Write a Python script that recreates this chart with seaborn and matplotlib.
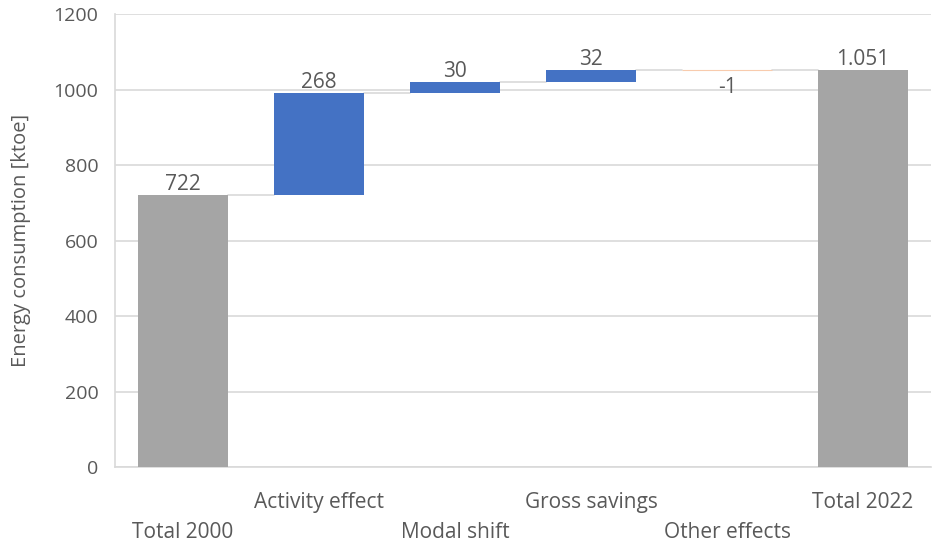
import matplotlib
matplotlib.use("Agg")
import matplotlib.pyplot as plt
import seaborn as sns
import pandas as pd
import numpy as np

categories = ["Total 2000", "Activity effect", "Modal shift", "Gross savings", "Other effects", "Total 2022"]
changes = [722, 268, 30, 32, -1, 1051]
is_total = [True, False, False, False, False, True]

# Waterfall geometry: bottom and height of each bar
bases, heights, levels = [], [], []
running = 0
for v, tot in zip(changes, is_total):
    if tot:
        bases.append(0)
        heights.append(v)
        running = v
    else:
        bases.append(running if v >= 0 else running + v)
        heights.append(abs(v))
        running += v
    levels.append(running)

df = pd.DataFrame({"category": categories, "height": heights})

colors = []
for v, tot in zip(changes, is_total):
    if tot:
        colors.append("#A5A5A5")
    elif v >= 0:
        colors.append("#4472C4")
    else:
        colors.append("#F8CBAD")

sns.set_theme(style="white")
plt.rcParams["font.family"] = ["Open Sans", "DejaVu Sans"]
text_color = "#595959"
grid_color = "#D9D9D9"
fs = 15

fig = plt.figure(figsize=(9.32, 5.44), dpi=100)
ax = fig.add_axes([0.1234, 0.1415, 0.8756, 0.8325])

bar_w = 0.66
sns.barplot(data=df, x="category", y="height", bottom=bases, width=bar_w,
            errorbar=None, ax=ax, color="#A5A5A5", zorder=3, linewidth=0)
for patch, c, v in zip(ax.patches, colors, changes):
    patch.set_facecolor(c)
    patch.set_edgecolor(c)
    if v < 0:
        patch.set_linewidth(0.8)

# connectors between consecutive bars
for i in range(len(categories) - 1):
    ax.plot([i + bar_w / 2, i + 1 - bar_w / 2], [levels[i], levels[i]],
            color=grid_color, lw=1.2, zorder=2)

# value labels
for i, (v, b, h) in enumerate(zip(changes, bases, heights)):
    label = f"{v:,}".replace(",", ".")
    if v >= 0:
        ax.annotate(label, (i, b + h), xytext=(0, 0), textcoords="offset points",
                    ha="center", va="bottom", fontsize=fs, color=text_color)
    else:
        ax.annotate(label, (i, b), xytext=(0, -5), textcoords="offset points",
                    ha="center", va="top", fontsize=fs, color=text_color)

ax.set_ylim(0, 1200)
ax.set_xlim(-0.5, len(categories) - 0.5)
ax.set_yticks(np.arange(0, 1201, 200))
ax.yaxis.grid(True, color=grid_color, lw=1.2, zorder=0)
ax.set_axisbelow(True)

ax.set_xticks(range(len(categories)))
ax.set_xticklabels([("\n" + c) if i % 2 == 0 else c for i, c in enumerate(categories)],
                   fontsize=fs, color=text_color, linespacing=1.55)
ax.tick_params(axis="x", length=0, pad=18)
ax.tick_params(axis="y", length=0, pad=12, labelsize=14, labelcolor=text_color)

ax.set_xlabel("")
ax.set_ylabel("Energy consumption [ktoe]", fontsize=14.5, color=text_color, labelpad=16)

for s in ["top", "right"]:
    ax.spines[s].set_visible(False)
for s in ["left", "bottom"]:
    ax.spines[s].set_color(grid_color)
    ax.spines[s].set_linewidth(1.2)

fig.savefig("out.png", dpi=100)
